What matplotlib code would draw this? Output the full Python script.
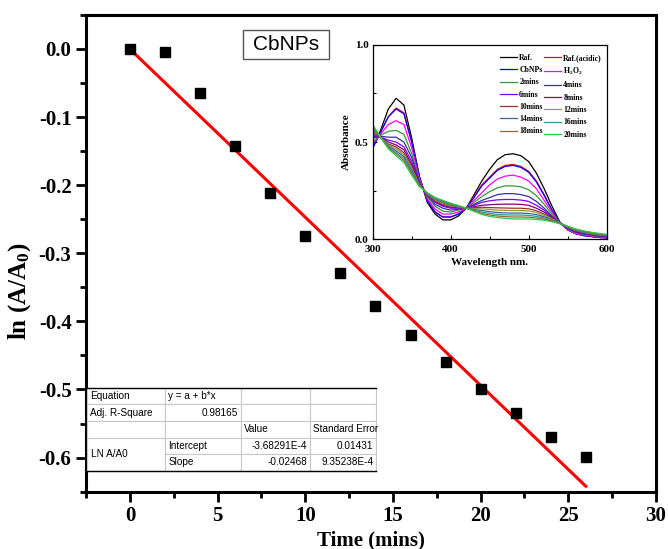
import matplotlib
matplotlib.use('Agg')
import matplotlib.pyplot as plt
from matplotlib.table import Table
from matplotlib.patches import Rectangle
from matplotlib.ticker import MultipleLocator, FormatStrFormatter

plt.rcParams['axes.unicode_minus'] = False
plt.rcParams['mathtext.fontset'] = 'custom'
plt.rcParams['mathtext.bf'] = 'Liberation Serif:bold'
plt.rcParams['mathtext.rm'] = 'Liberation Serif:bold'
plt.rcParams['mathtext.default'] = 'bf'

# kinetics data: ln(A/A0) vs time
time = [0, 2, 4, 6, 8, 10, 12, 14, 16, 18, 20, 22, 24, 26]
ln_ratio = [0.0, -0.004, -0.065, -0.143, -0.212, -0.274, -0.329, -0.378,
            -0.420, -0.460, -0.499, -0.535, -0.569, -0.599]

# linear fit results (from table)
intercept = -3.68291E-4
slope = -0.02468
fit_range = [0, 26]

# fit table text
table_rows = [
    ['Equation', 'y = a + b*x', '', ''],
    ['Adj. R-Square', '0.98165', '', ''],
    ['', '', 'Value', 'Standard Error'],
    ['', 'Intercept', '-3.68291E-4', '0.01431'],
    ['', 'Slope', '-0.02468', '9.35238E-4'],
]
table_align = [
    ['left', 'left', 'left', 'left'],
    ['left', 'right', 'left', 'left'],
    ['left', 'left', 'left', 'left'],
    ['left', 'left', 'right', 'right'],
    ['left', 'left', 'right', 'right'],
]

# UV-vis spectra (inset)
wavelength = [300, 310, 320, 330, 340, 350, 360, 370, 380, 390, 400, 410, 420,
              430, 440, 450, 460, 470, 480, 490, 500, 510, 520, 530, 540, 550,
              560, 570, 580, 590, 600]
spec_raf = [.48, .56, .67, .725, .69, .52, .32, .19, .13, .10, .10, .12, .16,
            .23, .30, .36, .41, .435, .44, .43, .40, .34, .26, .17, .09, .05,
            .03, .02, .015, .01, .008]
spec_raf_acid = [.47, .55, .63, .675, .65, .50, .32, .20, .14, .115, .115, .13, .16,
                 .22, .28, .32, .36, .38, .385, .375, .35, .30, .23, .15, .085, .05,
                 .03, .02, .015, .01, .008]
spec_cbnps = [.47, .55, .63, .67, .645, .50, .32, .20, .14, .115, .115, .13, .16,
              .215, .275, .315, .355, .375, .38, .37, .345, .295, .225, .15, .085, .05,
              .03, .02, .015, .01, .008]
spec_h2o2 = [.49, .54, .59, .61, .59, .47, .31, .21, .155, .13, .13, .14, .16,
             .20, .24, .28, .31, .325, .33, .32, .30, .26, .20, .14, .085, .05,
             .03, .022, .017, .012, .01]
spec_2 = [.50, .535, .555, .56, .54, .44, .30, .22, .17, .145, .14, .15, .16,
          .19, .22, .245, .265, .275, .275, .27, .255, .225, .18, .13, .085, .055,
          .035, .025, .02, .015, .012]
spec_4 = [.52, .53, .525, .525, .50, .42, .295, .225, .18, .16, .15, .155, .16,
          .18, .20, .215, .23, .235, .235, .23, .22, .195, .16, .12, .085, .057,
          .038, .028, .022, .017, .014]
spec_6 = [.53, .525, .51, .50, .475, .40, .29, .23, .19, .17, .16, .16, .16,
          .175, .19, .198, .203, .205, .205, .202, .195, .175, .15, .115, .085, .06,
          .04, .03, .024, .019, .016]
spec_8 = [.54, .525, .50, .485, .46, .385, .285, .23, .195, .175, .165, .163, .16,
          .168, .175, .178, .18, .181, .181, .18, .175, .16, .14, .112, .085, .062,
          .043, .032, .026, .021, .018]
spec_10 = [.55, .525, .49, .475, .445, .375, .28, .232, .20, .18, .17, .165, .16,
           .163, .165, .163, .162, .161, .16, .16, .157, .147, .13, .108, .085, .063,
           .045, .034, .027, .022, .019]
spec_12 = [.56, .525, .485, .465, .435, .365, .28, .233, .203, .185, .173, .167, .16,
           .158, .157, .153, .15, .149, .148, .148, .146, .138, .123, .105, .085, .064,
           .047, .036, .029, .024, .021]
spec_14 = [.565, .525, .48, .455, .425, .355, .277, .235, .207, .19, .177, .168, .16,
           .153, .148, .142, .138, .136, .135, .135, .133, .127, .116, .10, .084, .065,
           .049, .038, .031, .026, .022]
spec_16 = [.57, .525, .475, .445, .415, .345, .275, .237, .21, .193, .18, .17, .16,
           .15, .14, .133, .128, .126, .125, .125, .123, .118, .11, .097, .083, .066,
           .05, .04, .033, .027, .023]
spec_18 = [.58, .525, .47, .44, .405, .34, .273, .238, .213, .197, .183, .172, .16,
           .147, .133, .125, .12, .117, .115, .115, .114, .11, .104, .094, .082, .067,
           .052, .042, .035, .029, .024]
spec_20 = [.59, .525, .465, .43, .395, .33, .27, .24, .215, .20, .186, .174, .16,
           .144, .128, .118, .112, .108, .105, .105, .105, .102, .098, .091, .08, .067,
           .054, .044, .037, .031, .025]

spec_labels = ['Raf.', 'Raf.(acidic)', 'CbNPs', 'H$_2$O$_2$', '2mins', '4mins',
               '6mins', '8mins', '10mins', '12mins', '14mins', '16mins',
               '18mins', '20mins']
spec_data = [spec_raf, spec_raf_acid, spec_cbnps, spec_h2o2, spec_2, spec_4,
             spec_6, spec_8, spec_10, spec_12, spec_14, spec_16, spec_18, spec_20]
spec_colors = ['#000000', '#ff0000', '#0000ff', '#ff00ff', '#339933', '#333399',
               '#8000ff', '#800080', '#993333', '#999933', '#336699', '#339999',
               '#996633', '#22cc44']

serif = 'Liberation Serif'
sans = 'Liberation Sans'

fig = plt.figure(figsize=(6.68, 5.49), dpi=100)
ax = fig.add_axes([0.129, 0.1044, 0.853, 0.8686])

ax.plot(time, ln_ratio, 's', color='black', markersize=7.5, zorder=3)
fit_y = [intercept + slope * t for t in fit_range]
ax.plot(fit_range, fit_y, '-', color='red', linewidth=2.2, zorder=2)

ax.set_xlim(-2.5, 30)
ax.set_ylim(-0.65, 0.05)
ax.xaxis.set_major_locator(MultipleLocator(5))
ax.xaxis.set_minor_locator(MultipleLocator(2.5))
ax.yaxis.set_major_locator(MultipleLocator(0.1))
ax.yaxis.set_minor_locator(MultipleLocator(0.05))
ax.yaxis.set_major_formatter(FormatStrFormatter('%.1f'))
ax.tick_params(which='major', direction='out', length=7, width=2, labelsize=15)
ax.tick_params(which='minor', direction='out', length=4, width=2)
for lab in ax.get_xticklabels() + ax.get_yticklabels():
    lab.set_fontfamily(serif)
    lab.set_fontweight('bold')
for sp in ax.spines.values():
    sp.set_linewidth(2.2)

ax.set_xlabel('Time (mins)', fontsize=15, fontweight='bold', fontfamily=serif, labelpad=3)
ax.set_ylabel('ln (A/A$_0$)', fontsize=18, fontweight='bold', fontfamily=serif)
ax.yaxis.set_label_coords(-0.093, 0.42)

# CbNPs label box
ax.add_patch(Rectangle((0.275, 0.907), 0.151, 0.0608, transform=ax.transAxes,
                       facecolor='white', edgecolor='#555555', linewidth=1, zorder=4))
ax.text(0.351, 0.937, 'CbNPs', transform=ax.transAxes, ha='center', va='center',
        fontsize=15, fontfamily=sans, zorder=5)

# fit table
tb_x, tb_y, tb_w, tb_h = 0.002, 0.044, 0.507, 0.174
col_w = [0.137, 0.133, 0.121, 0.116]
row_h = tb_h / len(table_rows)
tb = Table(ax, bbox=[tb_x, tb_y, tb_w, tb_h])
for r, row in enumerate(table_rows):
    for c, txt in enumerate(row):
        cell = tb.add_cell(r, c, width=col_w[c], height=row_h, text=txt,
                           loc=table_align[r][c], facecolor='white',
                           edgecolor='#c8c8c8')
        cell.PAD = 0.04
        cell.get_text().set_fontfamily(sans)
        cell.set_linewidth(0.8)
tb[3, 0].visible_edges = 'LTR'
tb[4, 0].visible_edges = 'LBR'
tb.auto_set_font_size(False)
tb.set_fontsize(7.2)
tb.set_zorder(5)
ax.add_table(tb)
ax.text(tb_x + 0.006, tb_y + row_h, 'LN A/A0', transform=ax.transAxes,
        ha='left', va='center', fontsize=7.2, fontfamily=sans, zorder=6)
for yy in [tb_y, tb_y + tb_h]:
    ax.plot([tb_x, tb_x + tb_w], [yy, yy], transform=ax.transAxes,
            color='black', linewidth=1, zorder=7, clip_on=False)

# inset spectra
ins = fig.add_axes([0.558, 0.564, 0.350, 0.3545])
lines = []
for y, lab, col in zip(spec_data, spec_labels, spec_colors):
    ln, = ins.plot(wavelength, y, color=col, linewidth=0.9, label=lab)
    lines.append(ln)
ins.set_xlim(300, 600)
ins.set_ylim(0, 1.0)
ins.xaxis.set_major_locator(MultipleLocator(100))
ins.xaxis.set_minor_locator(MultipleLocator(50))
ins.yaxis.set_major_locator(MultipleLocator(0.5))
ins.yaxis.set_minor_locator(MultipleLocator(0.25))
ins.yaxis.set_major_formatter(FormatStrFormatter('%.1f'))
ins.tick_params(which='major', direction='in', length=3, width=0.8, labelsize=8)
ins.tick_params(axis='x', which='major', pad=4)
ins.tick_params(axis='y', which='major', pad=3)
ins.tick_params(which='minor', direction='in', length=2, width=0.8)
for lab in ins.get_xticklabels() + ins.get_yticklabels():
    lab.set_fontfamily(serif)
    lab.set_fontweight('bold')
for sp in ins.spines.values():
    sp.set_linewidth(0.9)
ins.set_xlabel('Wavelength nm.', fontsize=8, fontweight='bold', fontfamily=serif, labelpad=3)
ins.set_ylabel('Absorbance', fontsize=8, fontweight='bold', fontfamily=serif, labelpad=3)

# legend in two columns, row-major order like the original
order = [0, 2, 4, 6, 8, 10, 12, 1, 3, 5, 7, 9, 11, 13]
leg = ins.legend([lines[i] for i in order], [spec_labels[i] for i in order],
                 ncol=2, loc='upper left', bbox_to_anchor=(0.53, 0.97),
                 frameon=False, handlelength=2.2, handletextpad=0.3,
                 columnspacing=0.15, labelspacing=0.55, borderaxespad=0,
                 prop={'family': serif, 'weight': 'bold', 'size': 5.6})

fig.savefig('out.png', dpi=100)
